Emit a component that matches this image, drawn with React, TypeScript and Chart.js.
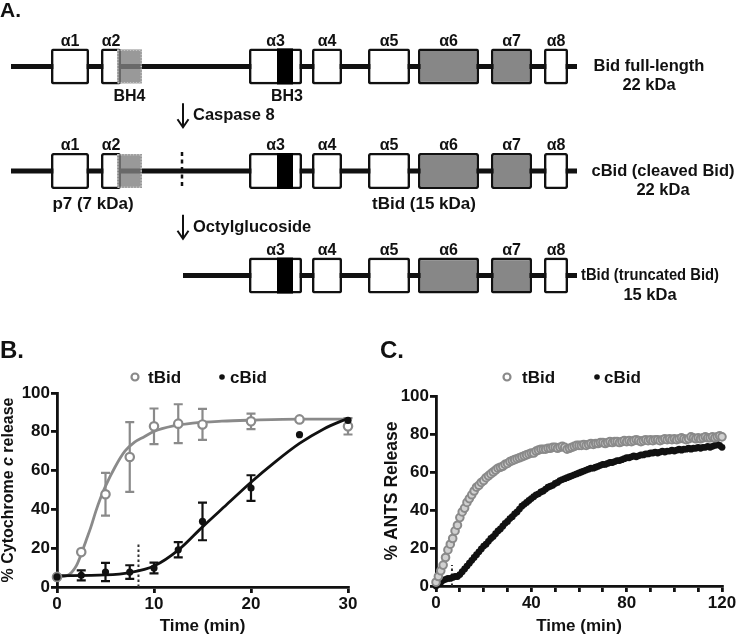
import React, { useEffect, useRef } from "react";
import { Chart, registerables } from "chart.js";

Chart.register(...registerables);

const FONT = "'Liberation Sans', Arial, Helvetica, sans-serif";
const INK = "#111111";
const GRAY = "#8a8a8a";
const BOX_GRAY = "#878787";

// ---------------- Panel A: Bid domain schematic (schematic position units) ----------------
const rowLevels = [1, 2, 3];
const rowNames = ["Bid full-length", "cBid (cleaved Bid)", "tBid (truncated Bid)"];
const rowMasses = ["22 kDa", "22 kDa", "15 kDa"];
const rowLabelCenters = [649, 663, 650];
const backboneStarts = [11, 11, 183];
const backboneEnds = [577, 577, 577];
const helixLabels = ["α1", "α2", "α3", "α4", "α5", "α6", "α7", "α8"];
const helixStarts = [51, 101, 249, 312, 368, 418, 491, 544];
const helixEnds = [89, 121, 302, 342, 410, 479, 532, 568];
const helixShaded = [false, false, false, false, false, true, true, false];
const helixRows = [[1, 2], [1, 2], [1, 2, 3], [1, 2, 3], [1, 2, 3], [1, 2, 3], [1, 2, 3], [1, 2, 3]];
const bh4Span = [117, 142];
const bh4Rows = [1, 2];
const bh3Span = [277, 293];
const bh3Rows = [1, 2, 3];
const cleavagePos = 182;
const cleavageRow = 2;
const stepLabels = ["Caspase 8", "Octylglucoside"];
const stepArrowTop = [1.352, 2.418];
const stepArrowBottom = [1.582, 2.648];
const fragmentLabels = ["p7 (7 kDa)", "tBid (15 kDa)"];
const fragmentCenters = [93, 424];

// ---------------- Panel B: cytochrome c release ----------------
const bTime = [0, 2.5, 5, 7.5, 10, 12.5, 15, 20, 25, 30];
const bTBid = [5.2, 18, 47.8, 67, 82.8, 84.2, 83.8, 85.4, 86.4, 82.8];
const bTBidSD = [0, 0, 11, 18, 9.2, 10, 8, 4, 0, 4.2];
const bCBid = [5.2, 6, 7.7, 7.7, 9.8, 19.2, 33.8, 51, 78.5, 85.9];
const bCBidSD = [0, 2.6, 4.7, 3.5, 2.8, 3.9, 9.7, 6.6, 0, 0];
const bTFitTime = [0, 1, 1.5, 2, 2.5, 3, 3.5, 4, 4.5, 5, 6, 7, 8, 9, 10, 12, 14, 17, 20, 25, 30];
const bTBidFit = [5, 5.8, 7.5, 11, 17, 24, 31, 39, 46, 52, 62, 70, 74.7, 77.5, 80.2, 83, 84.5, 85.5, 86, 86.5, 86.5];
const bCFitTime = [0, 5, 7.5, 10, 12.5, 15, 17.5, 20, 22.5, 25, 27.5, 30];
const bCBidFit = [5.8, 6.2, 7.4, 10.8, 19, 31, 42.5, 54, 64.5, 74, 81.5, 87];
const bXTicks = [0, 10, 20, 30];
const bDottedX = 8.4;
const bDottedTop = 22;

// ---------------- Panel C: ANTS release (one reading per minute, 0..120) ----------------
const cStepMin = 1;
const cTBid = [
  2, 5, 8, 11, 15, 19, 22, 25, 29, 32,
  36, 39, 41, 44, 46, 48, 50, 52, 53, 54.5,
  55.5, 57, 58, 59, 60, 61, 62, 62.5, 63, 64,
  64.5, 65.5, 66, 66.5, 67, 67.5, 68, 68.5, 69, 69.5,
  70, 70, 71, 71.5, 72, 72, 72, 72.5, 72.5, 73,
  73, 72.5, 73, 73.5, 73, 72, 72.5, 73, 73.5, 74,
  74, 74, 74.5, 74, 74.5, 75, 74.5, 75, 75, 75.5,
  75.5, 75, 75.5, 76, 75.5, 76, 76, 75.5, 76, 76.5,
  76, 76.5, 76, 76.5, 77, 76.5, 76, 76.5, 77, 76.5,
  77, 76.5, 77, 77, 76.5, 77, 77.5, 77, 77.5, 77,
  77.5, 77, 77.5, 78, 77.5, 77, 77.5, 78.5, 78, 77.5,
  78, 77.5, 78, 78.5, 78, 78, 78.5, 78, 78.5, 79, 78.5,
];
const cCBid = [
  0, 1, 2, 3, 3.5, 4, 4, 4.5, 5, 5,
  6, 7.5, 9, 10.5, 12, 13.5, 15, 16.5, 18, 19.5,
  21, 22, 23.5, 25, 26, 27.5, 29, 30, 31.5, 33,
  34, 35.5, 36.5, 38, 39, 40.5, 42, 43, 44, 45,
  46, 47, 48, 48.5, 49.5, 50, 51, 52, 52.5, 53,
  54, 54.5, 55.5, 56, 56.5, 57, 57.5, 58, 58.5, 59,
  59.5, 60, 60.5, 61, 61.5, 62, 62, 62.5, 63, 63.5,
  64, 64, 64.5, 65, 65, 65.5, 66, 66, 66.5, 67,
  67.5, 67.5, 68, 68.5, 68, 68.5, 69, 69, 69.5, 69.5,
  70, 70, 70.5, 70, 70.5, 71, 70.5, 71, 71, 71.5,
  71, 71.5, 72, 71.5, 72, 72, 72.5, 72, 72.5, 72.5,
  73, 72.5, 73, 73, 73.5, 73, 73.5, 74, 74.5, 74, 73,
];
const cLabelEvery = 40;
const cDottedX = 6.7;
const cDottedTop = 11;

const seriesNames = ["tBid", "cBid"];

// ---------------- helpers ----------------
function txt(ctx: CanvasRenderingContext2D, s: string, x: number, y: number, size: number, align: CanvasTextAlign = "center", maxW?: number) {
  ctx.font = `bold ${size}px ${FONT}`;
  ctx.textAlign = align;
  ctx.textBaseline = "middle";
  ctx.fillStyle = INK;
  if (maxW) ctx.fillText(s, x, y, maxW);
  else ctx.fillText(s, x, y);
}

function rotatedSegments(ctx: CanvasRenderingContext2D, segs: { text: string; italic?: boolean }[], cx: number, cy: number, size: number) {
  ctx.save();
  ctx.translate(cx, cy);
  ctx.rotate(-Math.PI / 2);
  const fonts = segs.map((s) => `${s.italic ? "italic " : ""}bold ${size}px ${FONT}`);
  const widths = segs.map((s, i) => {
    ctx.font = fonts[i];
    return ctx.measureText(s.text).width;
  });
  const total = widths.reduce((a, b) => a + b, 0);
  let x = -total / 2;
  ctx.fillStyle = INK;
  ctx.textAlign = "left";
  ctx.textBaseline = "middle";
  segs.forEach((s, i) => {
    ctx.font = fonts[i];
    ctx.fillText(s.text, x, 0);
    x += widths[i];
  });
  ctx.restore();
}

// ---------------- schematic chart ----------------
const CANVAS_A_H = 330;
const ROW_PX = 122;
const Y_MIN = 1 - 50 / ROW_PX;
const Y_MAX = Y_MIN + CANVAS_A_H / ROW_PX;

function makeSchematic(canvas: HTMLCanvasElement) {
  const common = { stack: "all", grouped: true, inflateAmount: 0, borderSkipped: false };
  const datasets: any[] = [];
  datasets.push({
    ...common,
    label: "backbone",
    data: rowLevels.map((r, i) => ({ y: r, x: [backboneStarts[i], backboneEnds[i]] })),
    backgroundColor: INK,
    borderWidth: 0,
    barThickness: 5,
    order: 10,
  });
  helixLabels.forEach((h, k) => {
    datasets.push({
      ...common,
      label: h,
      data: helixRows[k].map((r) => ({ y: r, x: [helixStarts[k], helixEnds[k]] })),
      backgroundColor: helixShaded[k] ? BOX_GRAY : "#ffffff",
      borderColor: INK,
      borderWidth: 2.6,
      borderRadius: 2,
      barThickness: 36,
      order: 5,
    });
  });
  datasets.push({
    ...common,
    label: "BH3",
    data: bh3Rows.map((r) => ({ y: r, x: bh3Span })),
    backgroundColor: "#000000",
    borderWidth: 0,
    barThickness: 36,
    order: 3,
  });
  datasets.push({
    ...common,
    label: "BH4",
    data: bh4Rows.map((r) => ({ y: r, x: bh4Span })),
    backgroundColor: "rgba(128,128,128,0.8)",
    borderWidth: 0,
    barThickness: 34,
    order: 1,
  });

  const plugin = {
    id: "schematicText",
    afterDatasetsDraw(chart: any) {
      const ctx: CanvasRenderingContext2D = chart.ctx;
      const xs = chart.scales.x;
      const ys = chart.scales.y;
      ctx.save();
      // dotted outline of BH4
      const bh4Meta = chart.getDatasetMeta(chart.data.datasets.length - 1);
      ctx.strokeStyle = "#c4c4c4";
      ctx.lineWidth = 1.5;
      ctx.setLineDash([1.5, 1.5]);
      bh4Meta.data.forEach((el: any) => {
        const l = Math.min(el.x, el.base);
        const r = Math.max(el.x, el.base);
        ctx.strokeRect(l + 0.75, el.y - el.height / 2 + 0.75, r - l - 1.5, el.height - 1.5);
      });
      ctx.setLineDash([]);

      txt(ctx, "A.", 0, 11, 21, "left");

      helixLabels.forEach((lab, k) => {
        helixRows[k].forEach((r) => {
          txt(ctx, lab, xs.getPixelForValue((helixStarts[k] + helixEnds[k]) / 2), ys.getPixelForValue(r) - 25, 16);
        });
      });
      txt(ctx, "BH4", xs.getPixelForValue((bh4Span[0] + bh4Span[1]) / 2), ys.getPixelForValue(bh4Rows[0]) + 30, 16);
      txt(ctx, "BH3", xs.getPixelForValue((bh3Span[0] + bh3Span[1]) / 2 + 2), ys.getPixelForValue(bh3Rows[0]) + 30, 16);

      rowLevels.forEach((r, i) => {
        const y = ys.getPixelForValue(r);
        const cx = xs.getPixelForValue(rowLabelCenters[i]);
        txt(ctx, rowNames[i], cx, y, 16.5, "center", i === 2 ? 138 : undefined);
        txt(ctx, rowMasses[i], cx, y + 19.5, 16.5);
      });

      // cleavage site
      const cxp = xs.getPixelForValue(cleavagePos);
      const cy = ys.getPixelForValue(cleavageRow);
      ctx.strokeStyle = INK;
      ctx.lineWidth = 2.5;
      ctx.setLineDash([4, 3.5]);
      ctx.beginPath();
      ctx.moveTo(cxp, cy - 19);
      ctx.lineTo(cxp, cy + 18);
      ctx.stroke();
      ctx.setLineDash([]);

      fragmentLabels.forEach((f, i) => {
        txt(ctx, f, xs.getPixelForValue(fragmentCenters[i]), cy + 33, 17);
      });

      // arrows
      stepLabels.forEach((s, i) => {
        const top = ys.getPixelForValue(stepArrowTop[i]);
        const bot = ys.getPixelForValue(stepArrowBottom[i]);
        ctx.strokeStyle = INK;
        ctx.lineWidth = 2;
        ctx.beginPath();
        ctx.moveTo(cxp + 1, top);
        ctx.lineTo(cxp + 1, bot);
        ctx.moveTo(cxp + 1 - 5.5, bot - 8);
        ctx.lineTo(cxp + 1, bot);
        ctx.lineTo(cxp + 1 + 5.5, bot - 8);
        ctx.stroke();
        txt(ctx, s, cxp + 11, (top + bot) / 2 + 0.5, 16.5, "left");
      });
      ctx.restore();
    },
  };

  return new Chart(canvas, {
    type: "bar",
    data: { datasets },
    options: {
      indexAxis: "y",
      animation: false,
      responsive: false,
      events: [],
      layout: { padding: 0 },
      plugins: { legend: { display: false }, tooltip: { enabled: false } },
      scales: {
        x: { type: "linear", min: 0, max: 745, display: false, stacked: false },
        y: { type: "linear", min: Y_MIN, max: Y_MAX, reverse: true, display: false, stacked: true },
      },
    } as any,
    plugins: [plugin as any],
  });
}

// ---------------- kinetics charts ----------------
type Spec = {
  panel: string;
  panelX: number;
  datasets: any[];
  xMax: number;
  xStep: number;
  xLabel: (v: number) => string;
  yTitle: { text: string; italic?: boolean }[];
  yTitleX: number;
  yTitleSize: number;
  yAxisWidth: number;
  xAxisHeight: number;
  padTop: number;
  padRight: number;
  legend: { tMark: number; tText: number; cMark: number; cText: number; y: number; tR: number; cR: number };
  dottedX: number;
  dottedTop: number;
};

function makeKinetics(canvas: HTMLCanvasElement, p: Spec) {
  const plugin = {
    id: "decor",
    beforeDatasetsDraw(chart: any) {
      const ctx: CanvasRenderingContext2D = chart.ctx;
      const xs = chart.scales.x;
      const ys = chart.scales.y;
      ctx.save();
      // dotted marker line
      ctx.strokeStyle = "#333333";
      ctx.lineWidth = 2;
      ctx.setLineDash([2.5, 2.5]);
      ctx.beginPath();
      ctx.moveTo(xs.getPixelForValue(p.dottedX), ys.getPixelForValue(0));
      ctx.lineTo(xs.getPixelForValue(p.dottedX), ys.getPixelForValue(p.dottedTop));
      ctx.stroke();
      ctx.setLineDash([]);
      // error bars
      chart.data.datasets.forEach((ds: any) => {
        if (!ds.errorBars) return;
        ctx.strokeStyle = ds.pointBorderColor;
        ctx.lineWidth = 2.2;
        ds.data.forEach((pt: any, j: number) => {
          const e = ds.errorBars[j];
          if (!e) return;
          const x = xs.getPixelForValue(pt.x);
          const t = ys.getPixelForValue(pt.y + e);
          const b = ys.getPixelForValue(pt.y - e);
          ctx.beginPath();
          ctx.moveTo(x, t);
          ctx.lineTo(x, b);
          ctx.moveTo(x - 4.5, t);
          ctx.lineTo(x + 4.5, t);
          ctx.moveTo(x - 4.5, b);
          ctx.lineTo(x + 4.5, b);
          ctx.stroke();
        });
      });
      ctx.restore();
    },
    afterDraw(chart: any) {
      const ctx: CanvasRenderingContext2D = chart.ctx;
      const area = chart.chartArea;
      ctx.save();
      txt(ctx, p.panel, p.panelX, 21, 24, "left");
      // legend
      const L = p.legend;
      ctx.beginPath();
      ctx.arc(L.tMark, L.y, L.tR, 0, Math.PI * 2);
      ctx.fillStyle = "#ffffff";
      ctx.fill();
      ctx.strokeStyle = GRAY;
      ctx.lineWidth = 2.2;
      ctx.stroke();
      txt(ctx, seriesNames[0], L.tText, L.y + 1, 17, "left");
      ctx.beginPath();
      ctx.arc(L.cMark, L.y, L.cR, 0, Math.PI * 2);
      ctx.fillStyle = INK;
      ctx.fill();
      txt(ctx, seriesNames[1], L.cText, L.y + 1, 17, "left");
      rotatedSegments(ctx, p.yTitle, p.yTitleX, (area.top + area.bottom) / 2, p.yTitleSize);
      ctx.restore();
    },
  };

  return new Chart(canvas, {
    type: "line",
    data: { datasets: p.datasets },
    options: {
      animation: false,
      responsive: false,
      events: [],
      layout: { padding: { top: p.padTop, right: p.padRight, left: 0, bottom: 0 } },
      plugins: { legend: { display: false }, tooltip: { enabled: false } },
      scales: {
        x: {
          type: "linear",
          min: 0,
          max: p.xMax,
          afterFit: (s: any) => {
            s.height = p.xAxisHeight;
          },
          ticks: {
            stepSize: p.xStep,
            autoSkip: false,
            maxRotation: 0,
            padding: 1,
            color: INK,
            font: { family: FONT, size: 17, weight: "bold" },
            callback: (v: any) => p.xLabel(Number(v)),
          },
          grid: { display: true, drawOnChartArea: false, drawTicks: true, tickLength: 6, lineWidth: 2.8, color: INK },
          border: { display: true, color: INK, width: 2.8 },
          title: {
            display: true,
            text: "Time (min)",
            color: INK,
            font: { family: FONT, size: 17, weight: "bold" },
            padding: { top: 0, bottom: 0 },
          },
        },
        y: {
          type: "linear",
          min: 0,
          max: 100,
          afterFit: (s: any) => {
            s.width = p.yAxisWidth;
          },
          ticks: {
            stepSize: 20,
            padding: 1,
            color: INK,
            font: { family: FONT, size: 17, weight: "bold" },
          },
          grid: { display: true, drawOnChartArea: false, drawTicks: true, tickLength: 6, lineWidth: 2.8, color: INK },
          border: { display: true, color: INK, width: 2.8 },
        },
      },
    } as any,
    plugins: [plugin as any],
  });
}

function pts(xs: number[], ys: number[]) {
  return ys.map((y, i) => ({ x: xs[i], y }));
}

const cTimes = cTBid.map((_, i) => i * cStepMin);

const specB: Spec = {
  panel: "B.",
  panelX: 0,
  xMax: 30,
  xStep: 10,
  xLabel: (v) => (bXTicks.includes(v) ? String(v) : ""),
  yTitle: [{ text: "% Cytochrome " }, { text: "c", italic: true }, { text: " release" }],
  yTitleX: 9,
  yTitleSize: 16,
  yAxisWidth: 57,
  xAxisHeight: 50,
  padTop: 63,
  padRight: 24,
  legend: { tMark: 135, tText: 148, cMark: 222, cText: 230, y: 47, tR: 3.5, cR: 2.8 },
  dottedX: bDottedX,
  dottedTop: bDottedTop,
  datasets: [
    {
      label: "tBid points",
      data: pts(bTime, bTBid),
      showLine: false,
      pointRadius: 4.2,
      pointBorderWidth: 2.2,
      pointBackgroundColor: "#ffffff",
      pointBorderColor: GRAY,
      errorBars: bTBidSD,
      clip: false,
      order: 1,
    },
    {
      label: "cBid points",
      data: pts(bTime, bCBid),
      showLine: false,
      pointRadius: 3.6,
      pointBorderWidth: 0,
      pointBackgroundColor: INK,
      pointBorderColor: INK,
      errorBars: bCBidSD,
      clip: false,
      order: 0,
    },
    {
      label: "tBid fit",
      data: pts(bTFitTime, bTBidFit),
      borderColor: GRAY,
      borderWidth: 2.8,
      pointRadius: 0,
      cubicInterpolationMode: "monotone",
      fill: false,
      order: 4,
    },
    {
      label: "cBid fit",
      data: pts(bCFitTime, bCBidFit),
      borderColor: INK,
      borderWidth: 2.8,
      pointRadius: 0,
      cubicInterpolationMode: "monotone",
      fill: false,
      order: 3,
    },
  ],
};

const specC: Spec = {
  panel: "C.",
  panelX: 8,
  xMax: 120,
  xStep: 10,
  xLabel: (v) => (v % cLabelEvery === 0 ? String(v) : ""),
  yTitle: [{ text: "% ANTS Release" }],
  yTitleX: 20,
  yTitleSize: 17.5,
  yAxisWidth: 64,
  xAxisHeight: 51,
  padTop: 66,
  padRight: 23,
  legend: { tMark: 135, tText: 150, cMark: 225, cText: 232, y: 47, tR: 3.5, cR: 2.8 },
  dottedX: cDottedX,
  dottedTop: cDottedTop,
  datasets: [
    {
      label: "tBid",
      data: pts(cTimes, cTBid),
      showLine: false,
      pointRadius: 3.8,
      pointBorderWidth: 2,
      pointBackgroundColor: "#d0d0d0",
      pointBorderColor: GRAY,
      clip: false,
      order: 0,
    },
    {
      label: "cBid",
      data: pts(cTimes, cCBid),
      showLine: false,
      pointRadius: 3.4,
      pointBorderWidth: 0,
      pointBackgroundColor: INK,
      pointBorderColor: INK,
      clip: false,
      order: 1,
    },
  ],
};

export default function App() {
  const aRef = useRef<HTMLCanvasElement>(null);
  const bRef = useRef<HTMLCanvasElement>(null);
  const cRef = useRef<HTMLCanvasElement>(null);

  useEffect(() => {
    const charts = [
      makeSchematic(aRef.current as HTMLCanvasElement),
      makeKinetics(bRef.current as HTMLCanvasElement, specB),
      makeKinetics(cRef.current as HTMLCanvasElement, specC),
    ];
    return () => charts.forEach((c) => c.destroy());
  }, []);

  const abs = (left: number, top: number, w: number, h: number): React.CSSProperties => ({
    position: "absolute",
    left,
    top,
    width: w,
    height: h,
    display: "block",
  });

  return (
    <div style={{ position: "fixed", left: 0, top: 0, width: 745, height: 637, background: "#ffffff", overflow: "hidden" }}>
      <canvas ref={aRef} width={745} height={CANVAS_A_H} style={abs(0, 0, 745, CANVAS_A_H)} />
      <canvas ref={bRef} width={372} height={307} style={abs(0, 330, 372, 307)} />
      <canvas ref={cRef} width={373} height={307} style={abs(372, 330, 373, 307)} />
    </div>
  );
}
